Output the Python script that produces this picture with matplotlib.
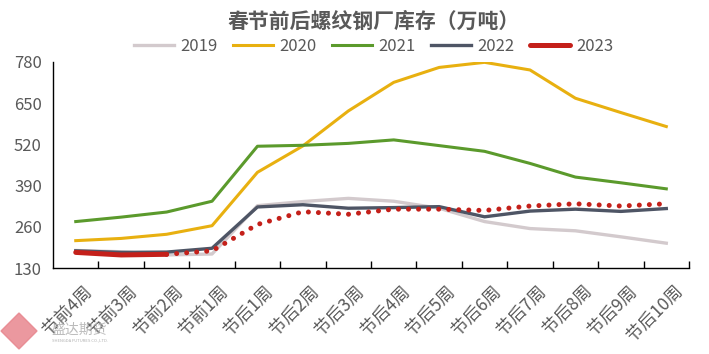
import numpy as np
import matplotlib.pyplot as plt
import matplotlib.transforms as mtransforms
from matplotlib.patches import RegularPolygon

plt.rcParams['font.family'] = ['Noto Sans CJK SC', 'DejaVu Sans']

weeks = ["节前4周", "节前3周", "节前2周", "节前1周", "节后1周", "节后2周", "节后3周",
         "节后4周", "节后5周", "节后6周", "节后7周", "节后8周", "节后9周", "节后10周"]
y2019 = [186, 182, 172, 175, 327, 340, 350, 341, 319, 277, 255, 248, 229, 209]
y2020 = [217, 224, 237, 264, 432, 515, 625, 715, 762, 778, 754, 665, 620, 576]
y2021 = [277, 291, 307, 341, 514, 517, 523, 534, 516, 498, 460, 417, 399, 380]
y2022 = [185, 180, 181, 193, 323, 330, 319, 321, 324, 292, 310, 316, 309, 318]
y2023 = [180, 172, 174]
y2023_est = [174, 185, 268, 308, 300, 316, 316, 312, 326, 333, 326, 333]

x = np.arange(len(weeks))
grey = '#595959'

fig = plt.figure(figsize=(7.09, 3.54), dpi=100)
ax = fig.add_axes([0.0748, 0.2421, 0.897, 0.5836])

ax.plot(x, y2019, color='#d3cacd', lw=2.4, label='2019')
ax.plot(x, y2020, color='#e8b010', lw=2.2, label='2020')
ax.plot(x, y2021, color='#5b9a2c', lw=2.2, label='2021')
ax.plot(x, y2022, color='#4e5565', lw=2.4, label='2022')
ax.plot(x[2:], y2023_est, color='#c4201a', lw=3.6, linestyle=(0, (0.01, 2)),
        dash_capstyle='round')
ax.plot(x[:3], y2023, color='#c4201a', lw=3.6, solid_capstyle='round', label='2023')

ax.set_xlim(-0.5, len(weeks) - 0.5)
ax.set_ylim(130, 780)
ax.set_yticks([130, 260, 390, 520, 650, 780])
ax.tick_params(axis='y', length=0, labelsize=12, colors=grey, pad=8)

ax.set_xticks(x)
ax.set_xticklabels(weeks, rotation=45, ha='right', rotation_mode='anchor')
ax.set_xticks(np.arange(0.5, len(weeks), 1), minor=True)
ax.tick_params(axis='x', which='major', length=0, labelsize=12.5, colors=grey, pad=10)
ax.tick_params(axis='x', which='minor', direction='in', length=5, width=1, color='black')
offset = mtransforms.ScaledTranslation(0.07, 0, fig.dpi_scale_trans)
for lab in ax.get_xticklabels():
    lab.set_transform(lab.get_transform() + offset)

for s in ['top', 'right']:
    ax.spines[s].set_visible(False)
for s in ['left', 'bottom']:
    ax.spines[s].set_color('black')
    ax.spines[s].set_linewidth(1)

fig.text(0.527, 0.94, "春节前后螺纹钢厂库存（万吨）", ha='center', va='center',
         fontsize=15, fontweight='bold', color=grey)
fig.legend(loc='center', bbox_to_anchor=(0.527, 0.870), ncol=5, frameon=False,
           fontsize=12, labelcolor=grey, handlelength=2.4, handletextpad=0.4,
           columnspacing=0.9)

# watermark logo
logo = RegularPolygon((0.19, 0.23), numVertices=4, radius=0.18, orientation=0,
                      transform=fig.dpi_scale_trans, color='#e8868e', alpha=0.85)
fig.patches.append(logo)
fig.text(0.073, 0.068, "盛达期货", fontsize=10, color='#b0b0b0', va='center', alpha=0.85)
fig.text(0.073, 0.04, "SHENGDA FUTURES CO.,LTD.", fontsize=3, color='#b0b0b0', va='center')

fig.savefig('out.png', dpi=100)
